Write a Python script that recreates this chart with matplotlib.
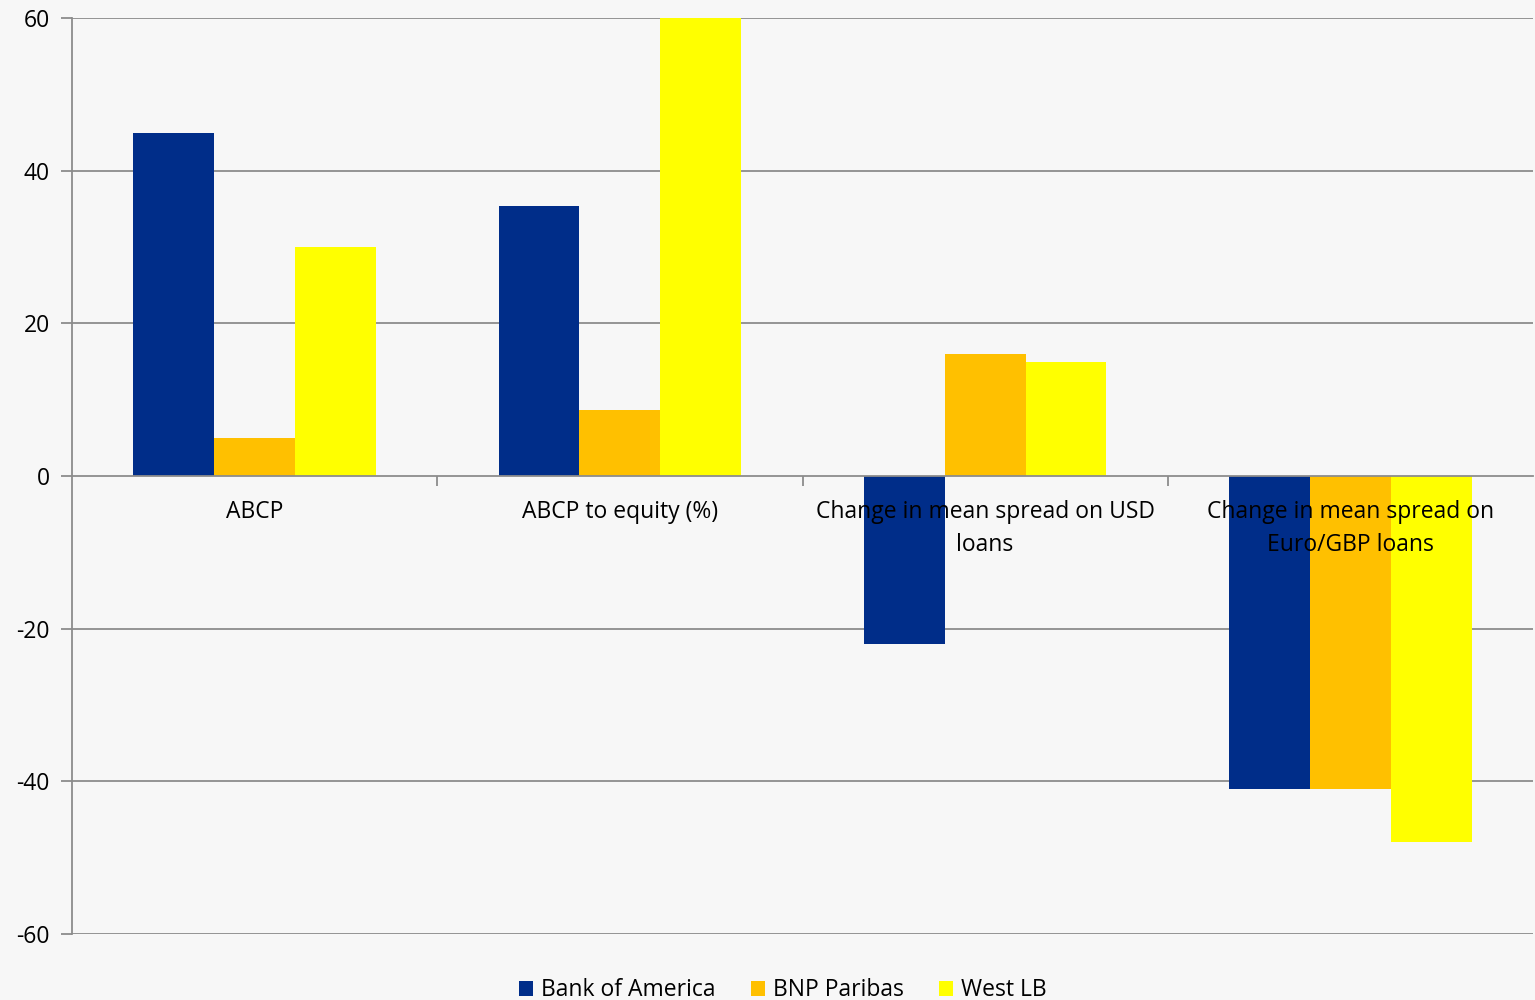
import matplotlib
matplotlib.use("Agg")
import matplotlib.pyplot as plt
import numpy as np
from matplotlib.ticker import FixedLocator, FuncFormatter

categories = ["ABCP", "ABCP to equity (%)", "Change in mean spread on USD\nloans",
              "Change in mean spread on\nEuro/GBP loans"]
series_names = ["Bank of America", "BNP Paribas", "West LB"]
bank_of_america = [45, 35.4, -22, -41]
bnp_paribas = [5, 8.6, 16, -41]
west_lb = [30, 60, 15, -48]
y_ticks = [-60, -40, -20, 0, 20, 40, 60]

colors = ["#002D89", "#FFC000", "#FFFF00"]
bg = "#F7F7F7"
grid_c = "#8C8C8C"

plt.rcParams['font.family'] = ['Open Sans', 'DejaVu Sans']

fig = plt.figure(figsize=(15.35, 10), dpi=100, facecolor=bg)
ax = fig.add_axes([72/1535, 1-934/1000, 1461/1535, 916/1000])
ax.set_facecolor(bg)

x = np.arange(len(categories))
w = 0.2215
for i, (vals, name) in enumerate(zip([bank_of_america, bnp_paribas, west_lb], series_names)):
    ax.bar(x + (i - 1) * w, vals, width=w, color=colors[i], label=name, zorder=1)

ax.set_xlim(-0.5, len(categories) - 0.5)
ax.set_ylim(-60, 60)
for yv in y_ticks:
    if yv != 0:
        ax.axhline(yv, color=grid_c, lw=1.3, zorder=0.5)

for s in ["top", "right"]:
    ax.spines[s].set_visible(False)
ax.spines["bottom"].set_position(("data", 0))
ax.spines["bottom"].set_color(grid_c)
ax.spines["bottom"].set_linewidth(1.3)
ax.spines["left"].set_color(grid_c)
ax.spines["left"].set_linewidth(1.3)

ax.set_yticks(y_ticks)
ax.yaxis.set_major_formatter(FuncFormatter(lambda v, p: f"{int(v)}".replace("\u2212", "-")))
ax.tick_params(axis="y", length=8, width=1.3, color=grid_c, labelsize=16.5, pad=8)

ax.set_xticks(x)
ax.set_xticklabels(categories, fontsize=16.5, linespacing=1.5)
ax.xaxis.set_minor_locator(FixedLocator(np.arange(0.5, len(categories) - 0.5, 1)))
ax.tick_params(axis="x", which="major", length=0, pad=17)
ax.tick_params(axis="x", which="minor", length=7, width=1.3, color=grid_c, direction="out")

fig.legend(loc="lower center", bbox_to_anchor=(0.51, -0.023), ncol=3, frameon=False,
           fontsize=16.5, handlelength=0.6, handleheight=0.6, handletextpad=0.35,
           columnspacing=1.55)

fig.savefig("out.png", dpi=100, facecolor=bg)
